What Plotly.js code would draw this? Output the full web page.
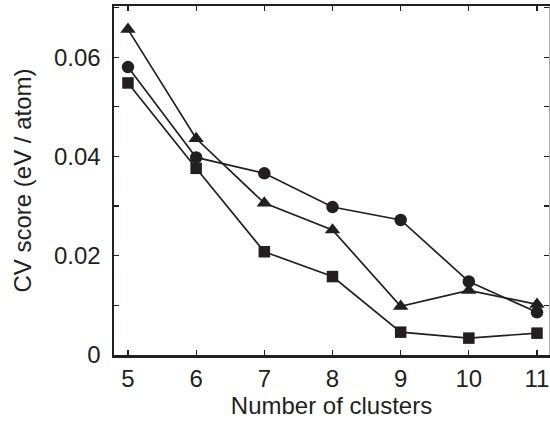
<!DOCTYPE html>
<html><head><meta charset="utf-8">
<script src="https://cdn.plot.ly/plotly-3.0.1.min.js"></script>
<style>html,body{margin:0;padding:0;background:#fff}#chart{width:550px;height:423px}</style>
</head><body><div id="chart"></div>
<script>
const clusters = [5, 6, 7, 8, 9, 10, 11];
const triangleSeries = [0.0656, 0.0436, 0.0306, 0.0252, 0.0098, 0.0130, 0.0102];
const circleSeries   = [0.0580, 0.0398, 0.0366, 0.0298, 0.0272, 0.0148, 0.0086];
const squareSeries   = [0.0548, 0.0376, 0.0208, 0.0158, 0.0046, 0.0034, 0.0044];
const yTickVals = [0, 0.01, 0.02, 0.03, 0.04, 0.05, 0.06, 0.07];
const yTickText = ['0', '', '0.02', '', '0.04', '', '0.06', ''];
const xTickVals = [5, 6, 7, 8, 9, 10, 11];
const xTickText = ['5', '6', '7', '8', '9', '10', '11'];

const ink = '#231f20';
const font = {family: 'Liberation Sans, Arial, sans-serif', size: 24, color: ink};
function series(y, symbol, size) {
  return {x: clusters, y: y, type: 'scatter', mode: 'lines+markers',
    line: {color: ink, width: 1.7},
    marker: {symbol: symbol, size: size, color: ink}, showlegend: false, hoverinfo: 'none'};
}
const data = [
  series(squareSeries, 'square', 11.5),
  series(circleSeries, 'circle', 12.5),
  series(triangleSeries, 'triangle-up', 13.5)
];
const xr = [4.795, 11.176];
const yr = [0, 0.0703];
const layout = {
  width: 550, height: 423,
  margin: {l: 114, r: 1, t: 6, b: 68},
  paper_bgcolor: '#fff', plot_bgcolor: '#fff',
  font: font,
  showlegend: false,
  xaxis: {range: xr, tickvals: xTickVals, ticktext: xTickText,
    ticks: 'inside', ticklen: 5, tickwidth: 1.2, tickcolor: ink,
    showline: true, linecolor: ink, linewidth: 2.5, mirror: 'ticks',
    showgrid: false, zeroline: false, tickfont: font, ticklabelstandoff: 1,
    title: {text: 'Number of clusters', font: font, standoff: 0}},
  yaxis: {range: yr, tickvals: yTickVals, ticktext: yTickText,
    ticks: 'inside', ticklen: 5, tickwidth: 1.2, tickcolor: ink,
    showline: true, linecolor: ink, linewidth: 2.5, mirror: false,
    showgrid: false, zeroline: false, tickfont: font, ticklabelstandoff: 6,
    title: {text: 'CV score (eV / atom)', font: font, standoff: 16}},
  yaxis2: {range: yr, overlaying: 'y', side: 'right', tickvals: yTickVals,
    ticks: 'inside', ticklen: 5, tickwidth: 1.2, tickcolor: ink,
    showticklabels: false, showline: true, linecolor: '#aaaaaa', linewidth: 1,
    showgrid: false, zeroline: false}
};
data.push({x: [xr[0]], y: [yr[0]], yaxis: 'y2', type: 'scatter', mode: 'markers',
  marker: {opacity: 0}, showlegend: false, hoverinfo: 'none'});
Plotly.newPlot('chart', data, layout, {staticPlot: true, displayModeBar: false});
</script></body></html>
